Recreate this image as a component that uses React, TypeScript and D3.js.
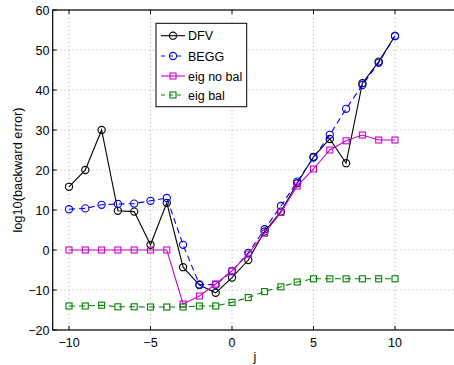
import React from "react";
import * as d3 from "d3";

const jValues = [-10, -9, -8, -7, -6, -5, -4, -3, -2, -1, 0, 1, 2, 3, 4, 5, 6, 7, 8, 9, 10];
const dfv = [15.8, 20, 30, 9.8, 9.6, 1.3, 11.8, -4.3, -8.75, -10.7, -6.9, -2.5, 4.6, 9.6, 16.7, 23.3, 27.75, 21.7, 41.7, 47.1, 53.5];
const begg = [10.2, 10.4, 11.3, 11.5, 11.6, 12.3, 13, 1.3, -8.6, -8.7, -5.3, -0.7, 5.2, 11, 17.1, 23.1, 28.8, 35.3, 41.25, 46.8, 53.5];
const eigNoBal = [0, 0, 0, 0, 0, 0, 0, -13.5, -11.5, -8.5, -5.2, -1, 4.2, 9.4, 16, 20.25, 25, 27.3, 28.75, 27.5, 27.5];
const eigBal = [-14, -14, -13.8, -14.2, -14.2, -14.25, -14.25, -14.25, -14, -14, -13.1, -11.9, -10.4, -9.2, -8, -7.2, -7.2, -7.2, -7.2, -7.2, -7.2];

const xTicks = [-10, -5, 0, 5, 10];
const yTicks = [-20, -10, 0, 10, 20, 30, 40, 50, 60];

const seriesNames = ["DFV", "BEGG", "eig no bal", "eig bal"];
const seriesData = [dfv, begg, eigNoBal, eigBal];
const seriesColors = ["#000000", "#0000ff", "#cc00cc", "#008000"];
const seriesDash = [null, "6,4", null, "6,4"];
const seriesMarker = ["circle", "circle", "square", "square"];

const W = 454;
const H = 365;
const left = 52.7;
const right = 460.2;
const top = 10;
const bottom = 330;
const font = "'Liberation Sans', Arial, Helvetica, sans-serif";

function Marker({ type, x, y, color }: { type: string; x: number; y: number; color: string }) {
  if (type === "circle") {
    return <circle cx={x} cy={y} r={3.6} fill="none" stroke={color} strokeWidth={1.1} />;
  }
  return <rect x={x - 3} y={y - 3} width={6} height={6} fill="none" stroke={color} strokeWidth={1.1} />;
}

export default function App() {
  const x = d3.scaleLinear().domain([-11, 14]).range([left, right]);
  const y = d3.scaleLinear().domain([-20, 60]).range([bottom, top]);
  const line = d3
    .line<number>()
    .x((_, i) => x(jValues[i]))
    .y((d) => y(d));

  const legX = 156;
  const legY = 23.3;
  const legW = 90.7;
  const legH = 83.4;
  const legRows = [35.7, 56, 76, 95];

  return (
    <svg
      width={W}
      height={H}
      style={{ position: "absolute", left: 0, top: 0, background: "#fff" }}
      fontFamily={font}
    >
      <rect x={0} y={0} width={W} height={H} fill="#fff" />
      {/* grid */}
      <g stroke="#999" strokeWidth={0.8} strokeDasharray="1,3">
        {xTicks.map((t) => (
          <line key={"gx" + t} x1={x(t)} x2={x(t)} y1={top} y2={bottom} />
        ))}
        {yTicks.map((t) => (
          <line key={"gy" + t} x1={left} x2={right} y1={y(t)} y2={y(t)} />
        ))}
      </g>
      {/* ticks */}
      <g stroke="#000" strokeWidth={1}>
        {xTicks.map((t) => (
          <g key={"tx" + t}>
            <line x1={x(t)} x2={x(t)} y1={bottom} y2={bottom - 4} />
            <line x1={x(t)} x2={x(t)} y1={top} y2={top + 4} />
          </g>
        ))}
        {yTicks.map((t) => (
          <line key={"ty" + t} x1={left} x2={left + 4} y1={y(t)} y2={y(t)} />
        ))}
      </g>
      {/* axes box */}
      <rect x={left} y={top} width={right - left} height={bottom - top} fill="none" stroke="#000" strokeWidth={1.2} />
      {/* tick labels */}
      <g fontSize={12.5} fill="#000">
        {xTicks.map((t) => (
          <text key={"lx" + t} x={x(t)} y={346.5} textAnchor="middle">
            {t < 0 ? "\u2212" + Math.abs(t) : t}
          </text>
        ))}
        {yTicks.map((t) => (
          <text key={"ly" + t} x={49.5} y={y(t) + 4.5} textAnchor="end">
            {t < 0 ? "\u2212" + Math.abs(t) : t}
          </text>
        ))}
      </g>
      <text x={255} y={361} textAnchor="middle" fontSize={12.5}>
        j
      </text>
      <text
        transform={`translate(21.5,${(top + bottom) / 2}) rotate(-90)`}
        textAnchor="middle"
        fontSize={12.8}
      >
        log10(backward error)
      </text>
      {/* series */}
      {seriesData.map((data, si) => (
        <g key={"s" + si}>
          <path
            d={line(data) || ""}
            fill="none"
            stroke={seriesColors[si]}
            strokeWidth={1.1}
            strokeDasharray={seriesDash[si] || undefined}
          />
          {data.map((v, i) => (
            <Marker key={i} type={seriesMarker[si]} x={x(jValues[i])} y={y(v)} color={seriesColors[si]} />
          ))}
        </g>
      ))}
      {/* legend */}
      <rect x={legX} y={legY} width={legW} height={legH} fill="#fff" stroke="#000" strokeWidth={1} />
      {seriesNames.map((name, i) => (
        <g key={"lg" + i}>
          <line
            x1={161}
            x2={185}
            y1={legRows[i]}
            y2={legRows[i]}
            stroke={seriesColors[i]}
            strokeWidth={1.1}
            strokeDasharray={seriesDash[i] ? "4,4" : undefined}
          />
          <Marker type={seriesMarker[i]} x={173} y={legRows[i]} color={seriesColors[i]} />
          <text x={188} y={legRows[i] + 4.5} fontSize={12.5} fill="#000">
            {name}
          </text>
        </g>
      ))}
    </svg>
  );
}
